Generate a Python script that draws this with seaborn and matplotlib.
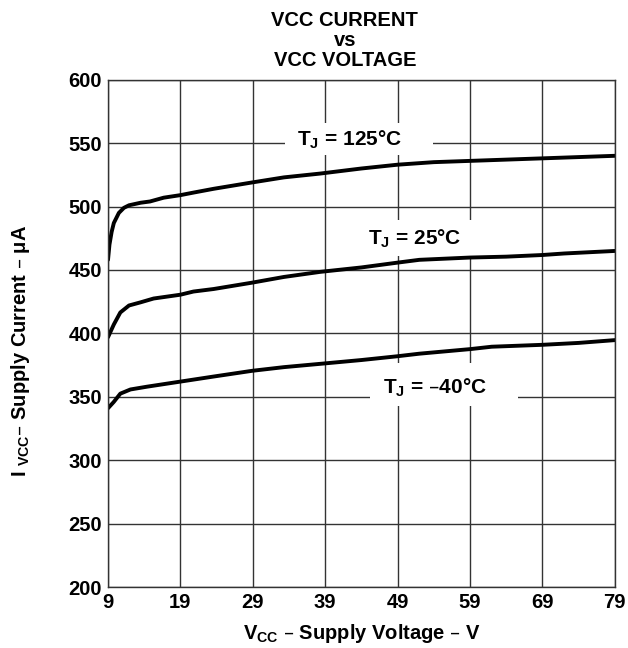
import numpy as np
import pandas as pd
import matplotlib
matplotlib.use('Agg')
import matplotlib.pyplot as plt
from matplotlib.patches import Rectangle
import seaborn as sns

# curve data (Vcc in V, Icc in uA)
v_125 = [9, 9.2, 9.5, 9.8, 10.5, 11.2, 11.9, 13.5, 14.8, 16.7, 19, 20.8, 23.6,
         28.9, 33.3, 38.3, 44, 49, 54, 59, 64, 69, 74, 79]
i_125 = [458, 470, 480, 487, 495, 499, 501, 503, 504, 507, 509, 511, 514,
         519, 523, 526, 530, 533, 535, 536, 537, 538, 539, 540]

v_25 = [9, 9.8, 10.7, 11.9, 13.5, 15.3, 19, 20.8, 23.6, 28.9, 33.3, 38.3,
        44, 49, 52, 59, 64, 69, 72, 79]
i_25 = [397, 407, 416.5, 422, 424.5, 427.5, 430.5, 433, 435, 440, 444.5, 448.5,
        452, 455.8, 458, 459.8, 460.5, 461.8, 463, 465]

v_m40 = [9, 9.8, 10.7, 12.1, 14.4, 19, 23.6, 28.9, 33.3, 38.3, 44, 49, 52,
         59, 62, 69, 74, 79]
i_m40 = [341, 346, 352.5, 355.8, 358, 362, 366, 370.5, 373.4, 376, 379, 382, 384,
         387.6, 389.5, 391, 392.5, 394.7]

temps = ['125', '25', '-40']
x_ticks = [9, 19, 29, 39, 49, 59, 69, 79]
y_ticks = [200, 250, 300, 350, 400, 450, 500, 550, 600]

df = pd.concat([
    pd.DataFrame({'Vcc': v_125, 'Icc': i_125, 'Tj': '125'}),
    pd.DataFrame({'Vcc': v_25, 'Icc': i_25, 'Tj': '25'}),
    pd.DataFrame({'Vcc': v_m40, 'Icc': i_m40, 'Tj': '-40'}),
])

sns.set_theme(style='whitegrid')
plt.rcParams['font.family'] = ['Liberation Sans', 'DejaVu Sans']
plt.rcParams['font.weight'] = 'bold'
plt.rcParams['mathtext.default'] = 'regular'
for key in ['text.color', 'axes.labelcolor', 'xtick.color', 'ytick.color']:
    plt.rcParams[key] = 'black'

fig = plt.figure(figsize=(6.28, 6.48), dpi=100)
ax = fig.add_axes([0.172, 0.094, 0.807, 0.783])

sns.lineplot(data=df, x='Vcc', y='Icc', hue='Tj', hue_order=temps,
             palette=['black'] * 3, linewidth=2.8, legend=False, ax=ax,
             estimator=None, sort=False)

ax.set_xlim(9, 79)
ax.set_ylim(200, 600)
ax.set_xticks(x_ticks)
ax.set_yticks(y_ticks)
ax.tick_params(length=0, pad=4.5, labelsize=14.5, colors='black')
for lab in ax.get_xticklabels() + ax.get_yticklabels():
    lab.set_fontweight('bold')
ax.set_axisbelow(True)
ax.grid(True, color='#333333', linewidth=1.0)
for s in ax.spines.values():
    s.set_color('#333333')
    s.set_linewidth(1.0)

ax.set_xlabel(r'V$_{CC}$ – Supply Voltage – V', fontsize=14.5,
              fontweight='bold', labelpad=7, color='black')
ax.set_ylabel('')
fig.text(0.032, 1 - 351 / 648, r'I $_{VCC}$– Supply Current – μA', rotation=90,
         ha='center', va='center', fontsize=14.5, fontweight='bold', color='black')

# curve labels with white boxes that cut the grid
labels = [
    (r'T$_J$ = 125°C', 42.4, 547.9, (33.4, 540.8, 20.5, 25.2)),
    (r'T$_J$ = 25°C', 51.3, 469.8, (43.3, 461.0, 18.2, 28.4)),
    (r'T$_J$ = –40°C', 54.2, 352.1, (45.2, 342.7, 20.4, 33.9)),
]
for txt, tx, ty, (bx, by, bw, bh) in labels:
    ax.add_patch(Rectangle((bx, by), bw, bh, facecolor='white',
                           edgecolor='none', zorder=1))
    ax.text(tx, ty, txt, ha='center', va='baseline', fontsize=15,
            fontweight='bold', color='black', zorder=3)

fig.text(0.549, 1 - 21 / 648, 'VCC CURRENT', ha='center', va='center',
         fontsize=14.5, fontweight='bold', color='black')
fig.text(0.549, 1 - 41 / 648, 'vs', ha='center', va='center',
         fontsize=14.5, fontweight='bold', color='black')
fig.text(0.549, 1 - 60 / 648, 'VCC VOLTAGE', ha='center', va='center',
         fontsize=14.5, fontweight='bold', color='black')

fig.savefig('out.png', dpi=100)
